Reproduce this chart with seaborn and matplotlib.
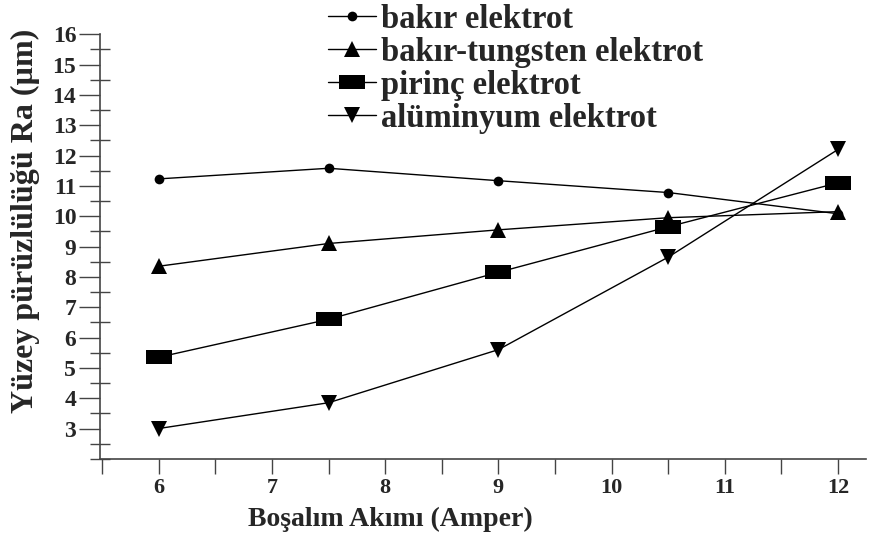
import numpy as np
import pandas as pd
import seaborn as sns
from matplotlib import pyplot as plt
from matplotlib.ticker import MultipleLocator

sns.set_style("white")
plt.rcParams["font.family"] = ["Liberation Serif", "DejaVu Serif"]
plt.rcParams["font.weight"] = "bold"

# Boşalım akımı (A)
current = [6, 7.5, 9, 10.5, 12]

# Yüzey pürüzlülüğü Ra (µm)
bakir = [11.23, 11.58, 11.17, 10.78, 10.08]
bakir_tungsten = [8.35, 9.1, 9.55, 9.95, 10.15]
pirinc = [5.35, 6.6, 8.15, 9.65, 11.1]
aluminyum = [3.0, 3.85, 5.6, 8.65, 12.2]

labels = ["bakır elektrot", "bakır-tungsten elektrot",
          "pirinç elektrot", "alüminyum elektrot"]

rect = [(-1, -0.5), (1, -0.5), (1, 0.5), (-1, 0.5), (-1, -0.5)]
styles = {
    labels[0]: dict(marker="o", ms=7),
    labels[1]: dict(marker="^", ms=12),
    labels[2]: dict(marker=rect, ms=19),
    labels[3]: dict(marker="v", ms=12),
}

df = pd.concat([
    pd.DataFrame({"akim": current, "ra": vals, "elektrot": name})
    for name, vals in zip(labels, [bakir, bakir_tungsten, pirinc, aluminyum])
])

fig = plt.figure(figsize=(8.84, 5.43), dpi=100)
ax = fig.add_axes([0.113, 0.155, 0.867, 0.782])

for name in labels:
    sub = df[df.elektrot == name]
    sns.lineplot(data=sub, x="akim", y="ra", ax=ax, color="black", lw=1,
                 label=name, markeredgewidth=0, **styles[name])

ax.set_xlim(5.48, 12.25)
ax.set_ylim(2, 16)
ax.xaxis.set_major_locator(MultipleLocator(1))
ax.xaxis.set_minor_locator(MultipleLocator(0.5))
ax.yaxis.set_major_locator(MultipleLocator(1))
ax.yaxis.set_minor_locator(MultipleLocator(0.5))
ax.set_yticks(np.arange(3, 17, 1))

for side in ["top", "right"]:
    ax.spines[side].set_visible(False)
for side in ["left", "bottom"]:
    ax.spines[side].set_color("#444444")
    ax.spines[side].set_linewidth(1.2)

ax.tick_params(axis="y", which="major", direction="out", length=15,
               width=1, color="#444444", labelsize=17, pad=2)
ax.tick_params(axis="y", which="minor", direction="inout", length=15,
               width=1, color="#444444")
ax.tick_params(axis="x", which="both", direction="out", length=11,
               width=1, color="#444444", labelsize=16, pad=3)
ax.tick_params(left=True, bottom=True, which="both")

ax.set_xlabel("Boşalım Akımı (Amper)", fontsize=20, fontweight="bold")
ax.set_ylabel("Yüzey pürüzlülüğü Ra (µm)", fontsize=23, fontweight="bold")
ax.xaxis.set_label_coords(0.379, -0.113)
ax.yaxis.set_label_coords(-0.078, 0.56)

ax.legend(loc="upper left", bbox_to_anchor=(0.298, 1.072), frameon=False,
          fontsize=23.5, handlelength=1.45, handletextpad=0.15,
          labelspacing=0.06, borderaxespad=0, borderpad=0)

plt.savefig("out.png", dpi=100)
